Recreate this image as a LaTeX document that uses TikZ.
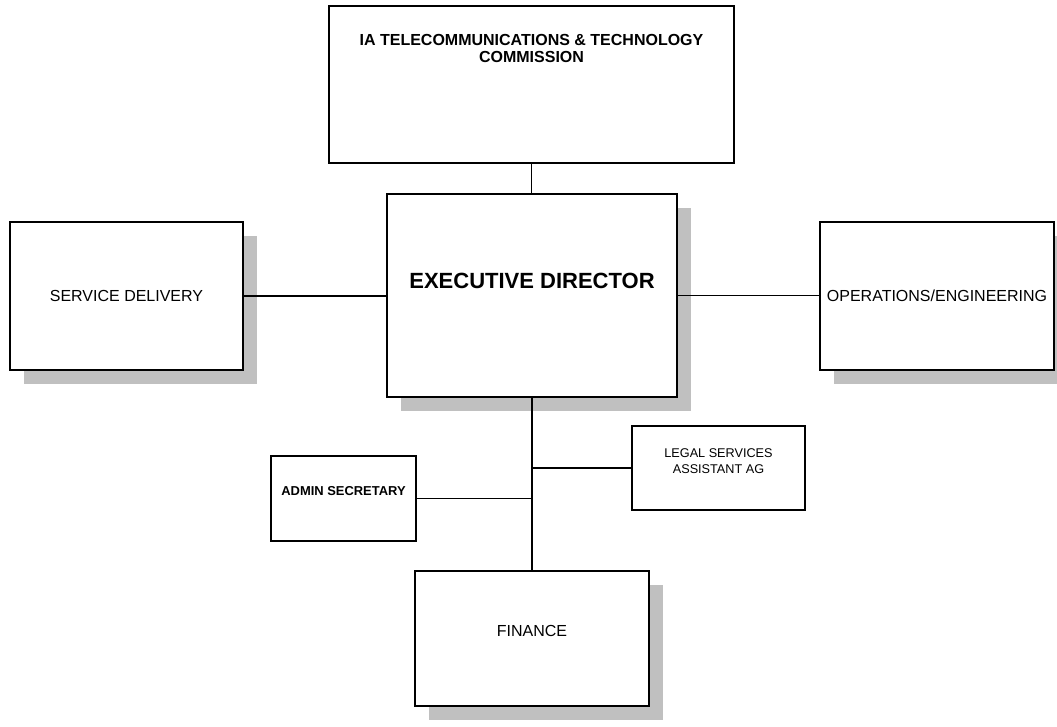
\documentclass[tikz,border=0pt]{standalone}
\usepackage{fontspec}
\setmainfont{Liberation Sans}
\usetikzlibrary{shadows}
\definecolor{shadowgray}{RGB}{192,192,192}
\tikzset{
  unit/.style={draw, line width=1.3pt, fill=white, inner sep=0pt, outer sep=0pt},
  shadowed/.style={drop shadow={shadow xshift=10.5pt, shadow yshift=-10.5pt, fill=shadowgray, opacity=1}},
  caption/.style={align=center, inner sep=0pt},
  link/.style={line width=1.3pt}
}

\begin{document}
\begin{tikzpicture}[x=0.75pt,y=-0.75pt]
	\useasboundingbox (0,0) rectangle (1057,727);
	% Boxes
	\node[unit, minimum width=303.75pt, minimum height=117.75pt] (commission) at (531.5,84.5) {};
	\node[unit, shadowed, minimum width=217.5pt, minimum height=152.25pt] (director) at (532,295.5) {};
	\node[unit, shadowed, minimum width=174.75pt, minimum height=111pt] (service) at (126.5,296) {};
	\node[unit, shadowed, minimum width=175.5pt, minimum height=111pt] (operations) at (937,296) {};
	\node[unit, minimum width=129.75pt, minimum height=63pt] (legal) at (718.5,468) {};
	\node[unit, minimum width=108.75pt, minimum height=63.75pt] (admin) at (343.5,498.5) {};
	\node[unit, shadowed, minimum width=175.5pt, minimum height=101.25pt] (finance) at (532,638.5) {};
	% Texts
	\node[caption, font=\fontsize{12}{13}\selectfont\bfseries] (commissiontext) at (531.5,48.5) {IA TELECOMMUNICATIONS \& TECHNOLOGY\\COMMISSION};
	\node[caption, font=\fontsize{16.5}{18}\selectfont\bfseries] (directortext) at (532,281) {EXECUTIVE DIRECTOR};
	\node[caption, font=\fontsize{12}{14}\selectfont] (servicetext) at (126.5,296) {SERVICE DELIVERY};
	\node[caption, font=\fontsize{12}{14}\selectfont] (operationstext) at (937,296) {OPERATIONS/ENGINEERING};
	\node[caption, font=\fontsize{9.5}{12}\selectfont] (legaltext) at (718.5,461.5) {LEGAL SERVICES\\ASSISTANT AG};
	\node[caption, font=\fontsize{9.7}{12}\selectfont\bfseries] (admintext) at (343.5,491) {ADMIN SECRETARY};
	\node[caption, font=\fontsize{12}{14}\selectfont] (financetext) at (532,631) {FINANCE};
	% Connectors
	\draw[link] (commission.south) -- (commission.south |- director.north);
	\draw[link] (service.east) -- (service.east -| director.west);
	\draw[link] (director.east) -- (director.east -| operations.west);
	\draw[link] (director.south) -- (director.south |- finance.north);
	\draw[link] (legal.west) -- (legal.west -| director.south);
	\draw[link] (admin.east) -- (admin.east -| director.south);
\end{tikzpicture}
\end{document}
